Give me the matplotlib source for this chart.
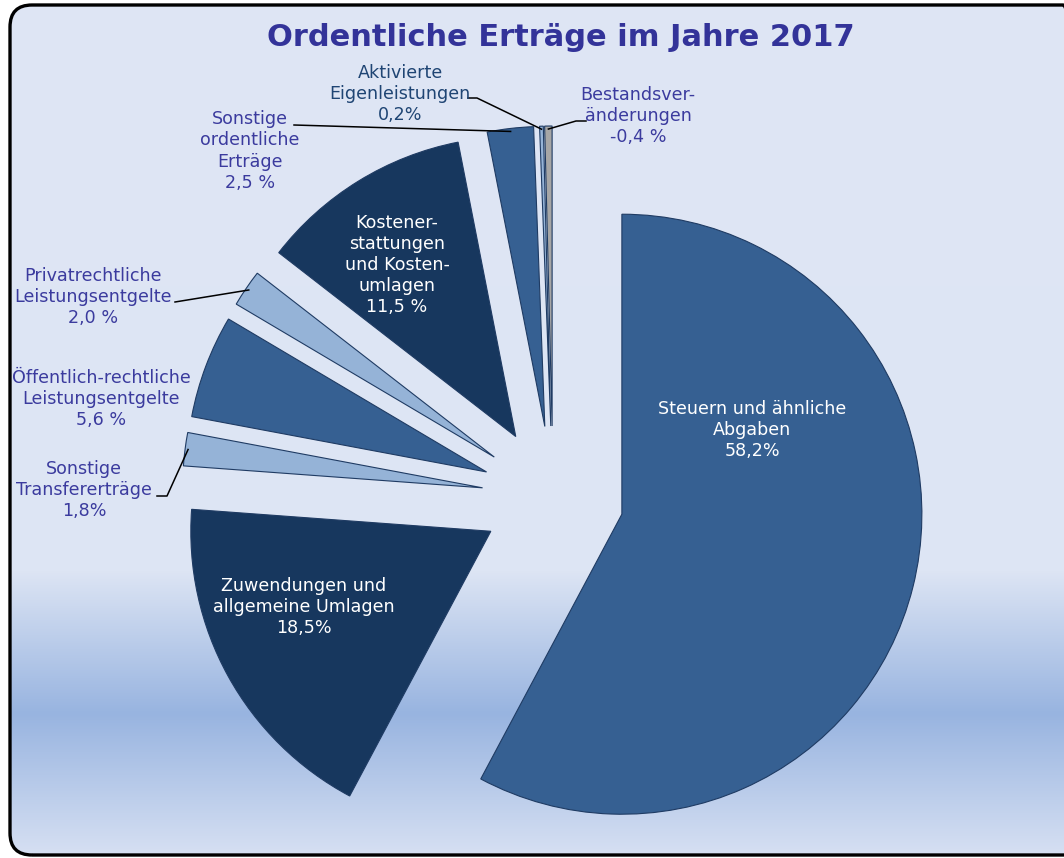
import numpy as np
import matplotlib.pyplot as plt
from matplotlib.colors import to_rgb
from matplotlib.patches import FancyBboxPatch

# data
categories = ['Steuern und ähnliche\nAbgaben', 'Zuwendungen und\nallgemeine Umlagen',
              'Sonstige\nTransfererträge', 'Öffentlich-rechtliche\nLeistungsentgelte',
              'Privatrechtliche\nLeistungsentgelte',
              'Kostener-\nstattungen\nund Kosten-\numlagen',
              'Sonstige\nordentliche\nErträge', 'Aktivierte\nEigenleistungen',
              'Bestandsver-\nänderungen']
shares = [58.2, 18.5, 1.8, 5.6, 2.0, 11.5, 2.5, 0.2, -0.4]
pct_text = ['58,2%', '18,5%', '1,8%', '5,6 %', '2,0 %', '11,5 %', '2,5 %', '0,2%', '-0,4 %']
slice_colors = ['#366092', '#17375e', '#95b3d7', '#366092', '#95b3d7',
                '#17375e', '#366092', '#95b3d7', '#a6a6a6']

W, H = 1064, 858
fig = plt.figure(figsize=(W / 100, H / 100), dpi=100, facecolor='white')
ax = fig.add_axes([0, 0, 1, 1])

def py(y):
    # pixel row (from top) -> data y
    return H - y

# background with gradient band, clipped to rounded frame
stops = [0, 570, 713, 858]
stop_cols = [to_rgb(c) for c in ['#dfe6f5', '#dde5f4', '#98b4e0', '#d8e1f3']]
rows = np.arange(H)
grad = np.stack([np.interp(rows, stops, [c[k] for c in stop_cols]) for k in range(3)], axis=1)
img = np.repeat(grad[:, None, :], 2, axis=1)
frame = FancyBboxPatch((10, py(855)), 1075, 850, boxstyle='round,pad=0,rounding_size=22',
                       facecolor='none', edgecolor='black', linewidth=2.4, zorder=5)
ax.add_patch(frame)
bg = ax.imshow(img, extent=[0, W, 0, H], aspect='auto', zorder=0)
bg.set_clip_path(frame)

# pie
wedges, _ = ax.pie(np.abs(shares), explode=[71] * len(shares), colors=slice_colors,
                   startangle=90, counterclock=False, radius=300, center=(553, py(497)),
                   wedgeprops=dict(edgecolor='#1f3b63', linewidth=0.8), normalize=True)
for w in wedges:
    w.set_zorder(2)
ax.set_xlim(0, W)
ax.set_ylim(0, H)
ax.set_aspect('auto')
ax.axis('off')

def arc_point(w, frac=1.0):
    th = np.deg2rad((w.theta1 + w.theta2) / 2)
    cx, cy = w.center
    return cx + w.r * frac * np.cos(th), cy + w.r * frac * np.sin(th)

fs = 12.6
ls = 1.22
out_col = '#3b3b9e'

# inside labels
inside = {0: (752, 430), 1: (304, 607), 5: (397, 265)}
for i, (x, y) in inside.items():
    ax.text(x, py(y), categories[i] + '\n' + pct_text[i], color='white', fontsize=fs,
            ha='center', va='center', linespacing=ls, zorder=4)

# outside labels: position, leader start, elbow
outside = {
    2: ((84, 490), (157, 496), (167, 496)),
    3: ((101, 399), None, None),
    4: ((93, 297), (175, 302), None),
    6: ((250, 151), (294, 125), None),
    7: ((400, 94), (468, 98), (477, 98)),
    8: ((638, 116), (586, 121), (576, 121)),
}
for i, (pos, start, elbow) in outside.items():
    col = '#1f4574' if i == 7 else out_col
    ax.text(pos[0], py(pos[1]), categories[i] + '\n' + pct_text[i], color=col,
            fontsize=fs, ha='center', va='center', linespacing=ls, zorder=4)
    if start is None:
        continue
    xs, ys = [start[0]], [py(start[1])]
    if elbow is not None:
        xs.append(elbow[0])
        ys.append(py(elbow[1]))
    ex, ey = arc_point(wedges[i], 0.99)
    xs.append(ex)
    ys.append(ey)
    ax.plot(xs, ys, color='black', linewidth=1.1, zorder=3)

ax.text(561, py(37), 'Ordentliche Erträge im Jahre 2017', color='#333399', fontsize=22,
        fontweight='bold', ha='center', va='center', zorder=4)

fig.savefig('out.png', dpi=100, facecolor='white')
